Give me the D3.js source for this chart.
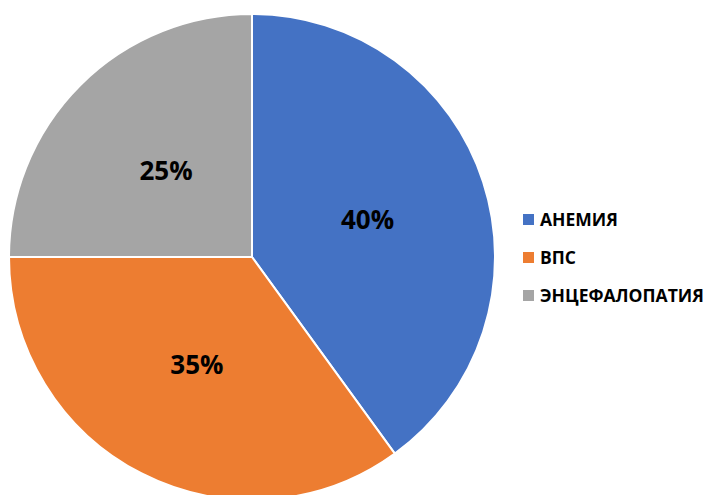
<!DOCTYPE html>
<html><head><meta charset="utf-8">
<script src="https://cdn.jsdelivr.net/npm/d3@7"></script>
<style>body{margin:0;background:#fff;} svg{display:block;}</style>
</head><body>
<svg id="chart" width="710" height="495"></svg>
<script>
const categories = ["АНЕМИЯ", "ВПС", "ЭНЦЕФАЛОПАТИЯ"];
const values = [40, 35, 25];
const labels = ["40%", "35%", "25%"];
const colors = ["#4472C4", "#ED7D31", "#A5A5A5"];

const svg = d3.select("#chart");
const cx = 252, cy = 257, r = 243;
const g = svg.append("g").attr("transform", `translate(${cx},${cy})`);
const pie = d3.pie().sort(null).value(d => d)(values);
const arc = d3.arc().innerRadius(0).outerRadius(r);
const labelArc = d3.arc().innerRadius(r * 0.5).outerRadius(r * 0.5);

g.selectAll("path").data(pie).join("path")
  .attr("d", arc).attr("fill", (d, i) => colors[i])
  .attr("stroke", "#fff").attr("stroke-width", 2).attr("stroke-linejoin", "round");

g.selectAll("text").data(pie).join("text")
  .attr("transform", d => `translate(${labelArc.centroid(d)})`)
  .attr("text-anchor", "middle").attr("dy", "0.35em")
  .attr("font-family", "'Open Sans', sans-serif").attr("font-weight", "bold")
  .attr("font-size", 26).attr("fill", "#000")
  .text((d, i) => labels[i]);

const leg = svg.append("g");
categories.forEach((c, i) => {
  const y = 220 + i * 38;
  leg.append("rect").attr("x", 523).attr("y", y - 6).attr("width", 11).attr("height", 11).attr("fill", colors[i]);
  leg.append("text").attr("x", 540).attr("y", y).attr("dy", "0.35em")
    .attr("font-family", "'Open Sans', sans-serif").attr("font-weight", "bold")
    .attr("font-size", 17.5).attr("fill", "#000").text(c);
});
</script>
</body></html>
